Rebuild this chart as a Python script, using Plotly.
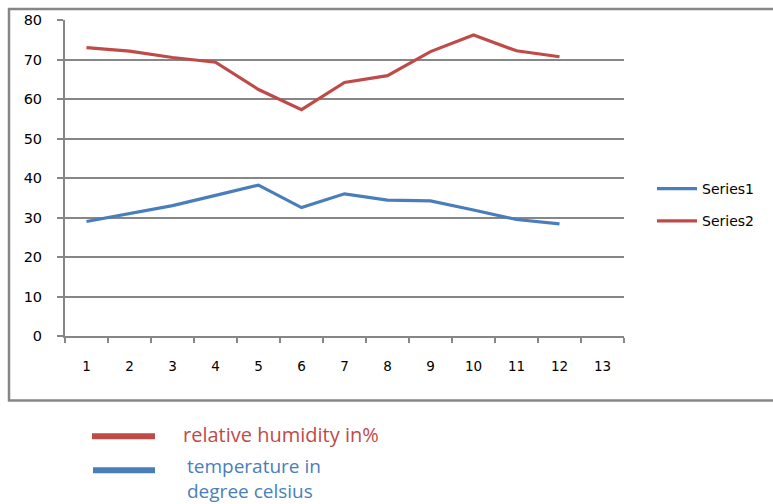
import plotly.graph_objects as go

months = list(range(1, 13))
x_tick_labels = [str(i) for i in range(1, 14)]
series1_temperature = [29.0, 31.0, 33.0, 35.6, 38.2, 32.5, 36.0, 34.4, 34.2, 31.9, 29.5, 28.4]
series2_humidity = [73.0, 72.1, 70.5, 69.3, 62.4, 57.3, 64.2, 65.9, 72.0, 76.2, 72.2, 70.7]

BLUE = "#4A7EBB"
RED = "#BE4B48"
GRAY = "#868686"

W, H = 773, 504
L, R, T, B = 65, 624, 18, 336


def px(x):
    return (x - L) / (R - L)


def py(y):
    return (B - y) / (B - T)


fig = go.Figure()
fig.add_trace(go.Scatter(x=months, y=series1_temperature, mode="lines", name="Series1",
                         line=dict(color=BLUE, width=3.2), legendgroup="a"))
fig.add_trace(go.Scatter(x=months, y=series2_humidity, mode="lines", name="Series2",
                         line=dict(color=RED, width=3.2), legendgroup="b"))

fig.update_layout(
    width=W, height=H,
    margin=dict(l=L, r=W - R, t=T, b=H - B),
    paper_bgcolor="white", plot_bgcolor="white",
    font=dict(family="DejaVu Sans", size=13, color="black"),
    showlegend=True,
    legend=dict(x=px(652), y=py(172), xanchor="left", yanchor="top",
                font=dict(size=14, family="DejaVu Sans"), tracegroupgap=11,
                itemwidth=40, bgcolor="rgba(0,0,0,0)"),
    xaxis=dict(range=[0.5, 13.5], tickvals=list(range(1, 14)), ticktext=x_tick_labels,
               ticks="", showgrid=False, showline=True, linecolor=GRAY, linewidth=2,
               zeroline=False, ticklabelstandoff=17, tickfont=dict(size=13.5),
               minor=dict(ticks="outside", tick0=0.5, dtick=1, ticklen=5,
                          tickcolor=GRAY, tickwidth=1.5, showgrid=False)),
    yaxis=dict(range=[0, 80], dtick=10, showgrid=True, gridcolor=GRAY, gridwidth=1.5,
               ticks="outside", ticklen=6, tickcolor=GRAY, tickwidth=1.5,
               showline=True, linecolor=GRAY, linewidth=2, zeroline=False,
               ticklabelstandoff=12, tickfont=dict(size=14.5)),
)

shapes = [
    dict(type="rect", xref="paper", yref="paper", x0=px(9), x1=px(776), y0=py(401), y1=py(7),
         line=dict(color=GRAY, width=2.5), fillcolor="rgba(0,0,0,0)", layer="below"),
    dict(type="line", xref="paper", yref="paper", x0=px(92), x1=px(155), y0=py(437), y1=py(437),
         line=dict(color=RED, width=6)),
    dict(type="line", xref="paper", yref="paper", x0=px(93), x1=px(155), y0=py(471), y1=py(471),
         line=dict(color=BLUE, width=6)),
]
fig.update_layout(shapes=shapes)

fig.add_annotation(xref="paper", yref="paper", x=px(181), y=py(435), xanchor="left", yanchor="middle",
                   text="relative humidity in%", showarrow=False,
                   font=dict(family="Open Sans", size=20, color=RED))
fig.add_annotation(xref="paper", yref="paper", x=px(185), y=py(479), xanchor="left", yanchor="middle",
                   text="temperature in<br>degree celsius", showarrow=False, align="left",
                   font=dict(family="Open Sans", size=19, color=BLUE))

fig.write_html("out.html", config={"displayModeBar": False},
               post_script="document.body.style.margin='0px';document.body.style.padding='0px';")
